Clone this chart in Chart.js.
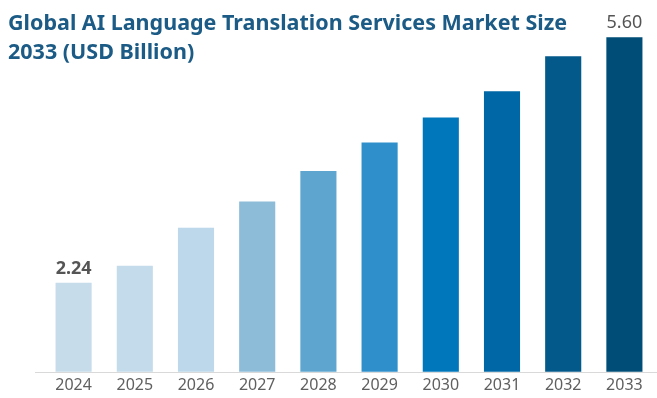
<!DOCTYPE html>
<html>
<head>
<meta charset="utf-8">
<script src="https://cdn.jsdelivr.net/npm/chart.js@4.4.1/dist/chart.umd.min.js"></script>
<style>
  body { margin: 0; background: #fff; }
  #wrap { position: relative; width: 657px; height: 398px; }
  #title {
    position: absolute; left: 8px; top: 7px;
    font-family: "Noto Sans", sans-serif; font-weight: bold;
    font-size: 21.5px; line-height: 29px; color: #1b5b85;
  }
</style>
</head>
<body>
<div id="wrap">
  <canvas id="marketChart" width="657" height="398"></canvas>
  <div id="title">Global AI Language Translation Services Market Size<br>2033 (USD Billion)</div>
</div>
<script>
const years = ['2024', '2025', '2026', '2027', '2028', '2029', '2030', '2031', '2032', '2033'];
const marketSize = [2.24, 2.47, 2.99, 3.35, 3.77, 4.16, 4.50, 4.86, 5.34, 5.60];
const barColors = ['#c6dcea', '#c3dbea', '#bdd8ea', '#8dbcd9', '#5ea6d0', '#2e8fcb', '#0077bb', '#0067a6', '#04598b', '#004e77'];
const shownLabels = { 0: 'bold', 9: 'normal' };

// value labels on first and last bar + long baseline
const extras = {
  id: 'extras',
  afterDatasetsDraw(chart) {
    const ctx = chart.ctx;
    const meta = chart.getDatasetMeta(0);
    ctx.save();
    ctx.fillStyle = '#555555';
    ctx.textAlign = 'center';
    ctx.textBaseline = 'bottom';
    Object.keys(shownLabels).forEach(i => {
      const bar = meta.data[i];
      ctx.font = shownLabels[i] + ' 18px "Noto Sans"';
      ctx.fillText(marketSize[i].toFixed(2), bar.x, bar.y - 5);
    });
    const y = Math.round(chart.chartArea.bottom) + 0.5;
    ctx.strokeStyle = '#d9d9d9';
    ctx.lineWidth = 1;
    ctx.beginPath();
    ctx.moveTo(35, y);
    ctx.lineTo(chart.width, y);
    ctx.stroke();
    ctx.restore();
  }
};

new Chart(document.getElementById('marketChart'), {
  type: 'bar',
  data: {
    labels: years,
    datasets: [{
      data: marketSize,
      backgroundColor: barColors,
      barPercentage: 0.59,
      categoryPercentage: 1.0
    }]
  },
  options: {
    responsive: false,
    animation: false,
    layout: { padding: { left: 43, right: 2, top: 20, bottom: -1 } },
    plugins: { legend: { display: false }, tooltip: { enabled: false } },
    scales: {
      x: {
        grid: { display: false, drawTicks: false, tickLength: 0 },
        border: { display: false },
        ticks: { color: '#606060', font: { family: 'Noto Sans', size: 16 }, padding: 4 }
      },
      y: { display: false, min: 1.02, max: 5.835 }
    }
  },
  plugins: [extras]
});
</script>
</body>
</html>
